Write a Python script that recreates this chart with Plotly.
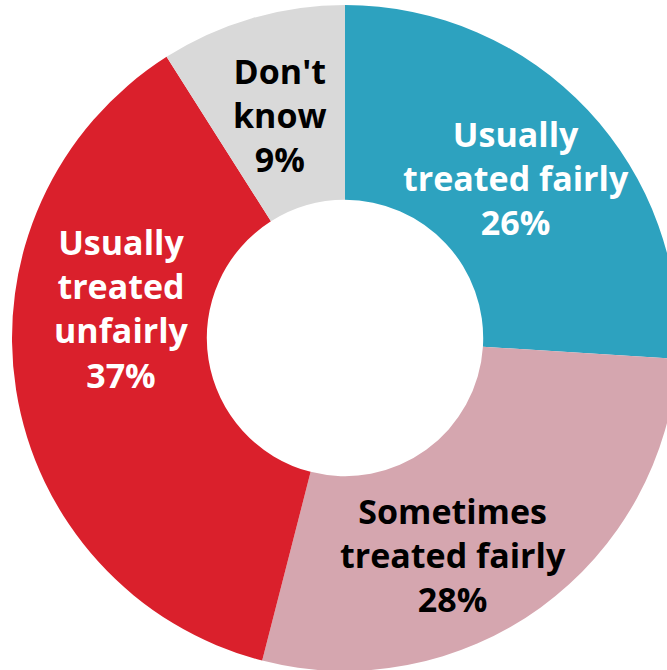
import plotly.graph_objects as go

categories = ["Usually treated fairly", "Sometimes treated fairly", "Usually treated unfairly", "Don't know"]
display_labels = ["Usually<br>treated fairly", "Sometimes<br>treated fairly", "Usually<br>treated<br>unfairly", "Don't<br>know"]
values = [26, 28, 37, 9]
colors = ["#2DA2BF", "#D5A6AF", "#DA202C", "#D9D9D9"]
text_colors = ["white", "black", "white", "black"]

# label anchor positions (pixels from top-left of the figure)
label_pos_px = [(516, 178), (453, 555), (121, 309), (280, 115)]

W, H = 690, 676

fig = go.Figure(go.Pie(
    labels=categories,
    values=values,
    marker=dict(colors=colors, line=dict(width=0)),
    hole=0.415,
    sort=False,
    direction="clockwise",
    rotation=0,
    textinfo="none",
    showlegend=False,
    hoverinfo="label+percent",
    domain=dict(x=[12 / W, 678 / W], y=[5 / H, 671 / H]),
))

for lab, v, col, (px, py) in zip(display_labels, values, text_colors, label_pos_px):
    fig.add_annotation(
        x=px / W, y=1 - py / H, xref="paper", yref="paper",
        xanchor="center", yanchor="middle",
        text=f"<b>{lab}<br>{v}%</b>",
        showarrow=False,
        align="center",
        font=dict(family="Open Sans", size=34, color=col),
    )

fig.update_layout(
    width=W, height=H,
    margin=dict(l=0, r=0, t=0, b=0),
    paper_bgcolor="white",
)

fig.write_html(
    "out.html",
    config={"displayModeBar": False},
    post_script="document.body.style.margin='0';document.body.style.overflow='hidden';",
)
